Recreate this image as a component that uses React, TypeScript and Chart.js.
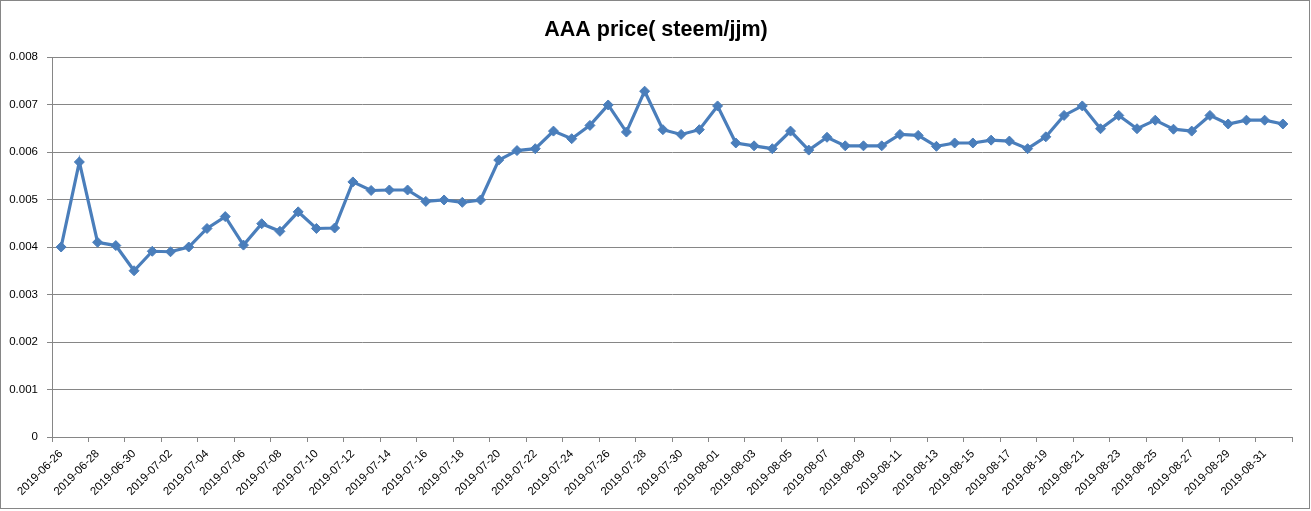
import React, { useEffect, useRef } from "react";
import { Chart, registerables } from "chart.js";

Chart.register(...registerables);

const dates: string[] = [
  "2019-06-26", "2019-06-27", "2019-06-28", "2019-06-29", "2019-06-30",
  "2019-07-01", "2019-07-02", "2019-07-03", "2019-07-04", "2019-07-05",
  "2019-07-06", "2019-07-07", "2019-07-08", "2019-07-09", "2019-07-10",
  "2019-07-11", "2019-07-12", "2019-07-13", "2019-07-14", "2019-07-15",
  "2019-07-16", "2019-07-17", "2019-07-18", "2019-07-19", "2019-07-20",
  "2019-07-21", "2019-07-22", "2019-07-23", "2019-07-24", "2019-07-25",
  "2019-07-26", "2019-07-27", "2019-07-28", "2019-07-29", "2019-07-30",
  "2019-07-31", "2019-08-01", "2019-08-02", "2019-08-03", "2019-08-04",
  "2019-08-05", "2019-08-06", "2019-08-07", "2019-08-08", "2019-08-09",
  "2019-08-10", "2019-08-11", "2019-08-12", "2019-08-13", "2019-08-14",
  "2019-08-15", "2019-08-16", "2019-08-17", "2019-08-18", "2019-08-19",
  "2019-08-20", "2019-08-21", "2019-08-22", "2019-08-23", "2019-08-24",
  "2019-08-25", "2019-08-26", "2019-08-27", "2019-08-28", "2019-08-29",
  "2019-08-30", "2019-08-31", "2019-09-01",
];

const prices: number[] = [
  0.0040, 0.00579, 0.0041, 0.00403, 0.0035,
  0.00391, 0.0039, 0.0040, 0.00439, 0.00464,
  0.00404, 0.00449, 0.00433, 0.00474, 0.00439,
  0.0044, 0.00537, 0.00519, 0.0052, 0.0052,
  0.00496, 0.00499, 0.00494, 0.00499, 0.00583,
  0.00603, 0.00607, 0.00644, 0.00628, 0.00656,
  0.00699, 0.00642, 0.00728, 0.00647, 0.00637,
  0.00647, 0.00697, 0.00619, 0.00613, 0.00607,
  0.00644, 0.00604, 0.00631, 0.00613, 0.00613,
  0.00613, 0.00637, 0.00635, 0.00612, 0.00619,
  0.00619, 0.00625, 0.00623, 0.00607, 0.00632,
  0.00677, 0.00697, 0.00649, 0.00677, 0.00649,
  0.00667, 0.00648, 0.00644, 0.00677, 0.00659,
  0.00667, 0.00667, 0.00659,
];

const yTicks: number[] = [0, 0.001, 0.002, 0.003, 0.004, 0.005, 0.006, 0.007, 0.008];

const chartTitle = "AAA price( steem/jjm)";

const GRAY = "#868686";
const BLUE = "#4A7EBB";
const FONT = "'Liberation Sans', Arial, sans-serif";

const frame = {
  id: "frame",
  afterDraw(chart: any) {
    const ctx = chart.ctx;
    ctx.save();
    ctx.strokeStyle = GRAY;
    ctx.lineWidth = 1;
    ctx.strokeRect(0.5, 0.5, 1309, 508);
    ctx.fillStyle = "#000";
    ctx.font = `bold 21.5px ${FONT}`;
    ctx.textAlign = "center";
    ctx.textBaseline = "alphabetic";
    ctx.fillText(chartTitle, 656, 35.5);
    ctx.restore();
  },
};

export default function App() {
  const ref = useRef<HTMLCanvasElement | null>(null);

  useEffect(() => {
    if (!ref.current) return;
    const chart = new Chart(ref.current, {
      type: "line",
      data: {
        labels: dates,
        datasets: [
          {
            label: "price",
            data: prices,
            borderColor: BLUE,
            backgroundColor: BLUE,
            borderWidth: 3.2,
            pointStyle: "rectRot",
            pointRadius: 5,
            pointBorderWidth: 1,
            pointBackgroundColor: BLUE,
            pointBorderColor: BLUE,
            tension: 0,
          },
        ],
      },
      options: {
        animation: false,
        responsive: false,
        devicePixelRatio: 1,
        layout: { padding: { left: 0, right: 19, top: 57, bottom: 0 } },
        plugins: {
          legend: { display: false },
          tooltip: { enabled: false },
          title: { display: false },
        },
        scales: {
          x: {
            type: "category",
            offset: true,
            grid: {
              offset: true,
              drawOnChartArea: false,
              drawTicks: true,
              tickLength: 5,
              color: (c: any) =>
                c.index === undefined || c.index % 2 === 0 ? GRAY : "rgba(0,0,0,0)",
            },
            border: { display: true, color: GRAY, width: 1 },
            ticks: {
              autoSkip: false,
              minRotation: 45,
              maxRotation: 45,
              padding: 5,
              color: "#000",
              font: { family: FONT, size: 11.5 },
              callback: (_v: any, i: number) => (i % 2 === 0 ? dates[i] : ""),
            },
            afterFit: (s: any) => {
              s.height = 74;
            },
          },
          y: {
            min: 0,
            max: 0.008,
            afterBuildTicks: (s: any) => {
              s.ticks = yTicks.map((v) => ({ value: v }));
            },
            grid: {
              color: GRAY,
              drawTicks: true,
              tickLength: 5,
            },
            border: { display: true, color: GRAY, width: 1 },
            ticks: {
              padding: 9,
              color: "#000",
              font: { family: FONT, size: 11.5 },
              callback: (v: any) => (Number(v) === 0 ? "0" : Number(v).toFixed(3)),
            },
            afterFit: (s: any) => {
              s.width = 52;
            },
          },
        },
      },
      plugins: [frame],
    });
    return () => chart.destroy();
  }, []);

  return (
    <div style={{ position: "absolute", left: 0, top: 0, width: 1311, height: 511, background: "#fff" }}>
      <canvas ref={ref} width={1311} height={511} style={{ display: "block" }} />
    </div>
  );
}
